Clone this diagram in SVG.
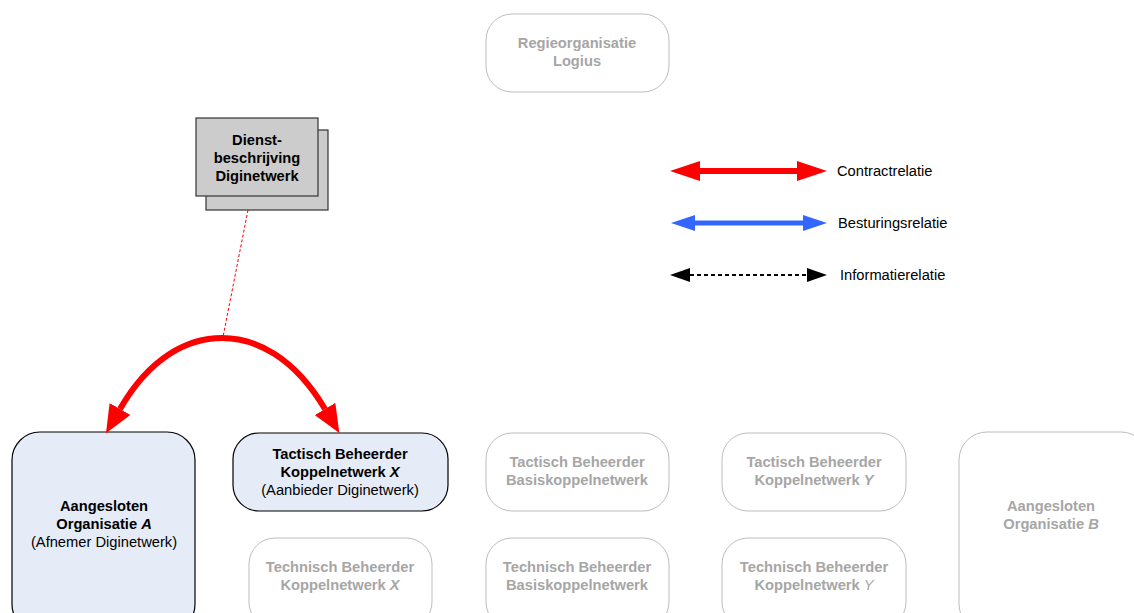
<svg xmlns="http://www.w3.org/2000/svg" width="1134" height="613" viewBox="0 0 1134 613">
<style>
text{font-family:"Liberation Sans",Arial,sans-serif;font-size:14.7px;text-anchor:middle}
.b{font-weight:bold}
.g{fill:#a6a6a6}
.k{fill:#000}
.gbox{fill:#fff;stroke:#bdbdbd;stroke-width:1}
.abox{fill:#e6ecf7;stroke:#000;stroke-width:1.2}
.doc{fill:#cccccc;stroke:#333;stroke-width:1.2}
.lg{text-anchor:start;fill:#000}
</style>
<defs>
<marker id="ar" markerUnits="userSpaceOnUse" viewBox="0 0 30 20" refX="0" refY="10" markerWidth="30" markerHeight="20" orient="auto-start-reverse"><path d="M0,0 L30,10 L0,20 z" fill="#ff0000"/></marker>
<marker id="ab" markerUnits="userSpaceOnUse" viewBox="0 0 24 16" refX="0" refY="8" markerWidth="24" markerHeight="16" orient="auto-start-reverse"><path d="M0,0 L24,8 L0,16 z" fill="#3366ff"/></marker>
<marker id="ak" markerUnits="userSpaceOnUse" viewBox="0 0 20 14" refX="0" refY="7" markerWidth="20" markerHeight="14" orient="auto-start-reverse"><path d="M0,0 L20,7 L0,14 z" fill="#000"/></marker>
<marker id="arc" markerUnits="userSpaceOnUse" viewBox="0 0 28 24" refX="0" refY="12" markerWidth="28" markerHeight="24" orient="auto-start-reverse"><path d="M0,0 L28,12 L0,24 z" fill="#ff0000"/></marker>
</defs>

<g id="regie">
<rect class="gbox" x="486" y="14" width="183" height="78" rx="26"/>
<text class="b g" x="577" y="48">Regieorganisatie</text>
<text class="b g" x="577" y="66">Logius</text>
</g>

<g id="dienst">
<rect class="doc" x="206" y="130" width="122" height="80"/>
<rect class="doc" x="196" y="118" width="122" height="78"/>
<text class="b k" x="257" y="145">Dienst-</text>
<text class="b k" x="257" y="163">beschrijving</text>
<text class="b k" x="257" y="181">Diginetwerk</text>
</g>

<g id="aangesloten-a">
<rect class="abox" x="12" y="432" width="183" height="200" rx="28"/>
<text class="b k" x="104" y="511">Aangesloten</text>
<text class="b k" x="104" y="529">Organisatie <tspan font-style="italic">A</tspan></text>
<text class="k" x="104" y="547">(Afnemer Diginetwerk)</text>
</g>

<g id="tactisch-x">
<rect class="abox" x="233" y="433" width="215" height="78" rx="26"/>
<text class="b k" x="340" y="459">Tactisch Beheerder</text>
<text class="b k" x="340" y="477">Koppelnetwerk <tspan font-style="italic">X</tspan></text>
<text class="k" x="340" y="495">(Aanbieder Diginetwerk)</text>
</g>

<g id="tactisch-basis">
<rect class="gbox" x="486" y="433" width="183" height="78" rx="26"/>
<text class="b g" x="577" y="467">Tactisch Beheerder</text>
<text class="b g" x="577" y="485">Basiskoppelnetwerk</text>
</g>

<g id="tactisch-y">
<rect class="gbox" x="722" y="433" width="184" height="78" rx="26"/>
<text class="b g" x="814" y="467">Tactisch Beheerder</text>
<text class="b g" x="814" y="485">Koppelnetwerk <tspan font-style="italic">Y</tspan></text>
</g>

<g id="aangesloten-b">
<rect class="gbox" x="959" y="432" width="190" height="200" rx="28"/>
<text class="b g" x="1051" y="511">Aangesloten</text>
<text class="b g" x="1051" y="529">Organisatie <tspan font-style="italic">B</tspan></text>
</g>

<g id="technisch-x">
<rect class="gbox" x="249" y="538" width="183" height="90" rx="26"/>
<text class="b g" x="340" y="572">Technisch Beheerder</text>
<text class="b g" x="340" y="590">Koppelnetwerk <tspan font-style="italic">X</tspan></text>
</g>

<g id="technisch-basis">
<rect class="gbox" x="486" y="538" width="183" height="90" rx="26"/>
<text class="b g" x="577" y="572">Technisch Beheerder</text>
<text class="b g" x="577" y="590">Basiskoppelnetwerk</text>
</g>

<g id="technisch-y">
<rect class="gbox" x="722" y="538" width="184" height="90" rx="26"/>
<text class="b g" x="814" y="572">Technisch Beheerder</text>
<text class="b g" x="814" y="590">Koppelnetwerk <tspan font-weight="normal" font-style="italic">Y</tspan></text>
</g>

<g id="connectors">
<line x1="248" y1="210" x2="223" y2="337" stroke="#ff0000" stroke-width="1" stroke-dasharray="3,2"/>
<path d="M120,409 C150,357 188,338 222,338 C256,338 294,357 325,409" fill="none" stroke="#ff0000" stroke-width="6" marker-start="url(#arc)" marker-end="url(#arc)"/>
</g>

<g id="legend">
<line x1="700" y1="171" x2="797" y2="171" stroke="#ff0000" stroke-width="6" marker-start="url(#ar)" marker-end="url(#ar)"/>
<text class="lg" x="837" y="176">Contractrelatie</text>
<line x1="695" y1="223" x2="803" y2="223" stroke="#3366ff" stroke-width="5" marker-start="url(#ab)" marker-end="url(#ab)"/>
<text class="lg" x="838" y="228">Besturingsrelatie</text>
<line x1="690" y1="275" x2="807" y2="275" stroke="#000" stroke-width="2" stroke-dasharray="4,3" marker-start="url(#ak)" marker-end="url(#ak)"/>
<text class="lg" x="840" y="280">Informatierelatie</text>
</g>
</svg>
